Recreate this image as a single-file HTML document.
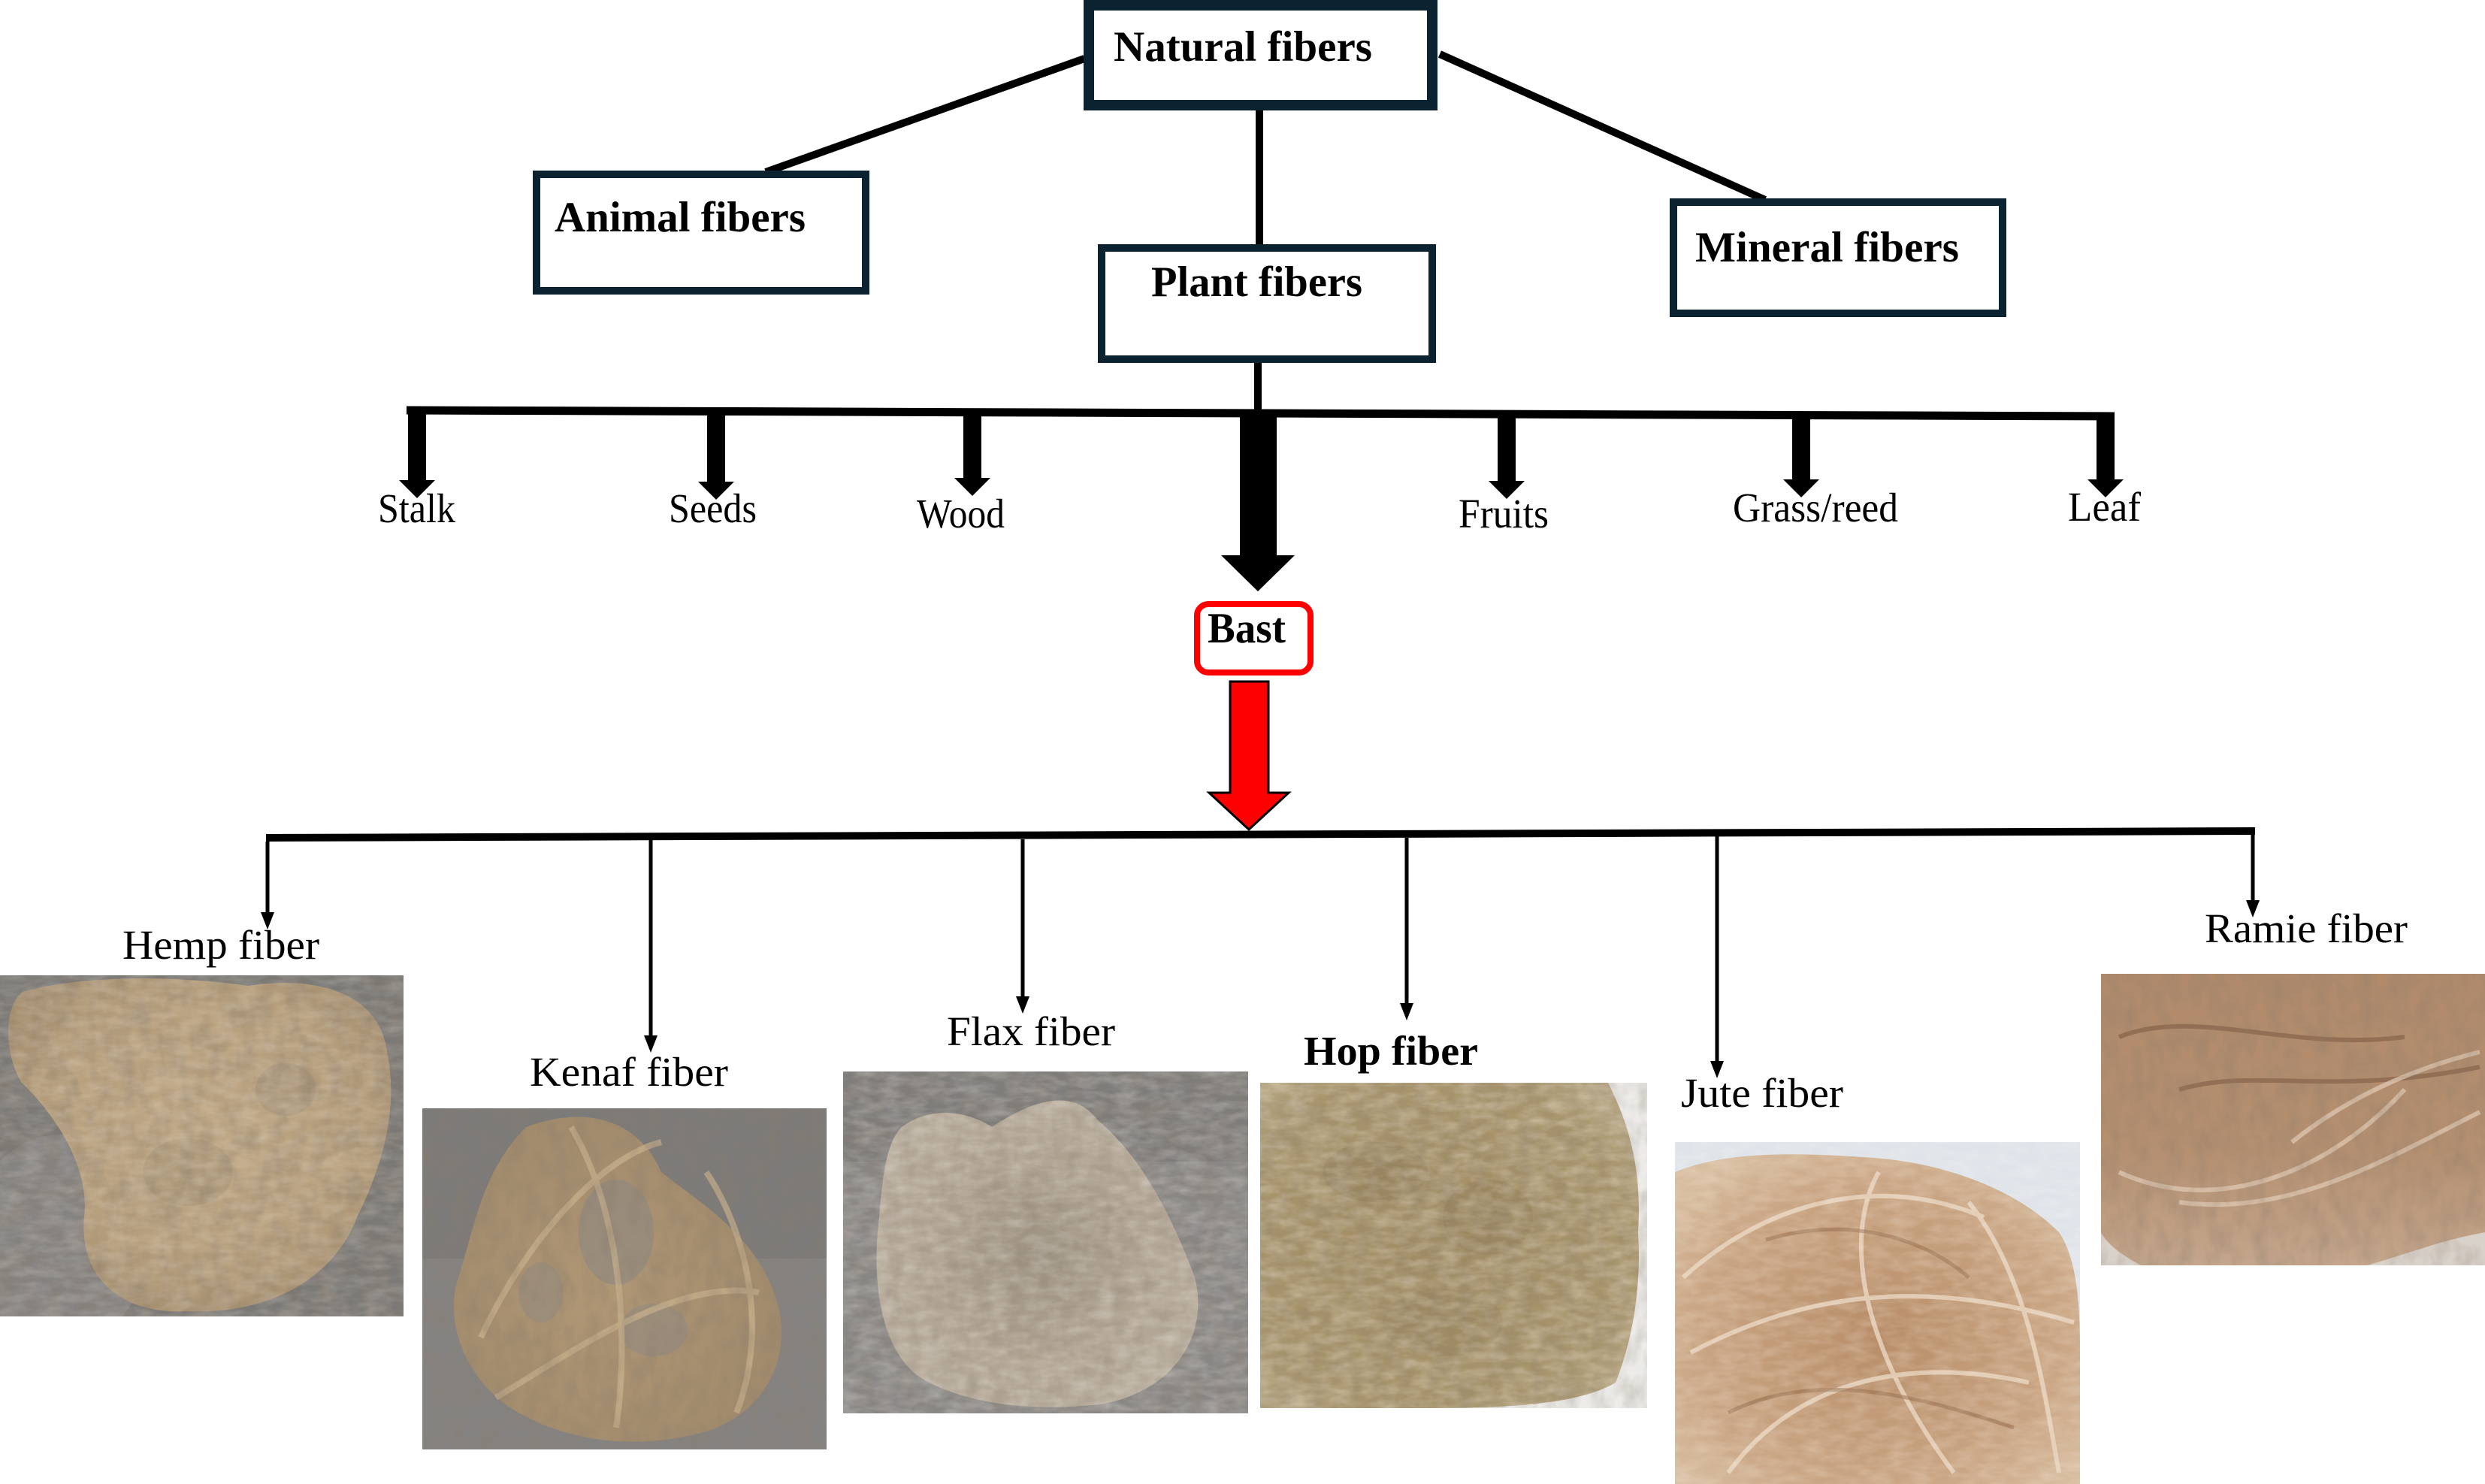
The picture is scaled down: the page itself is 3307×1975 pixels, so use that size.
<!DOCTYPE html>
<html>
<head>
<meta charset="utf-8">
<style>
html,body{margin:0;padding:0;background:#fff;}
svg{display:block;}
text{font-family:"Liberation Serif","Times New Roman",Times,serif;fill:#000;}
</style>
</head>
<body>
<svg width="3307" height="1975" viewBox="0 0 3307 1975" xmlns="http://www.w3.org/2000/svg">
<defs>
  <filter id="noise" x="0" y="0" width="100%" height="100%">
    <feTurbulence type="fractalNoise" baseFrequency="0.035 0.09" numOctaves="3" seed="4" result="t"/>
    <feColorMatrix in="t" type="matrix" values="0 0 0 0 1  0 0 0 0 0.95  0 0 0 0 0.88  0 0 0 -1.6 1.1"/>
  </filter>
  <filter id="noiseDark" x="0" y="0" width="100%" height="100%">
    <feTurbulence type="fractalNoise" baseFrequency="0.05 0.03" numOctaves="3" seed="9" result="t"/>
    <feColorMatrix in="t" type="matrix" values="0 0 0 0 0.25  0 0 0 0 0.2  0 0 0 0 0.15  0 0 0 -1.8 1.15"/>
  </filter>
  <radialGradient id="gHemp" cx="50%" cy="45%" r="60%">
    <stop offset="0" stop-color="#bea785"/>
    <stop offset="0.7" stop-color="#b59e7c"/>
    <stop offset="1" stop-color="#a38d6e"/>
  </radialGradient>
  <radialGradient id="gKenaf" cx="45%" cy="55%" r="60%">
    <stop offset="0" stop-color="#b09775"/>
    <stop offset="1" stop-color="#a08a6c"/>
  </radialGradient>
  <radialGradient id="gFlax" cx="50%" cy="50%" r="55%">
    <stop offset="0" stop-color="#9d9282"/>
    <stop offset="0.6" stop-color="#afa392"/>
    <stop offset="1" stop-color="#b9ae9e"/>
  </radialGradient>
  <radialGradient id="gHop" cx="45%" cy="50%" r="65%">
    <stop offset="0" stop-color="#a08c64"/>
    <stop offset="0.8" stop-color="#a8956d"/>
    <stop offset="1" stop-color="#b6a582"/>
  </radialGradient>
  <radialGradient id="gJute" cx="50%" cy="55%" r="65%">
    <stop offset="0" stop-color="#b88d68"/>
    <stop offset="0.7" stop-color="#c9a583"/>
    <stop offset="1" stop-color="#d8bda0"/>
  </radialGradient>
  <linearGradient id="gRamie" x1="0" y1="0" x2="0" y2="1">
    <stop offset="0" stop-color="#b08a6b"/>
    <stop offset="0.6" stop-color="#b48f70"/>
    <stop offset="1" stop-color="#c4a68c"/>
  </linearGradient>
  <clipPath id="cHemp"><rect x="0" y="1298" width="537" height="454"/></clipPath>
  <clipPath id="cKenaf"><rect x="562" y="1475" width="538" height="454"/></clipPath>
  <clipPath id="cFlax"><rect x="1122" y="1426" width="539" height="455"/></clipPath>
  <clipPath id="cHop"><rect x="1677" y="1441" width="515" height="433"/></clipPath>
  <clipPath id="cJute"><rect x="2229" y="1520" width="539" height="455"/></clipPath>
  <clipPath id="cRamie"><rect x="2796" y="1296" width="511" height="388"/></clipPath>
</defs>

<!-- ============ Connectors top ============ -->
<line x1="1443" y1="78" x2="1019" y2="229" stroke="#000" stroke-width="10"/>
<line x1="1916" y1="72" x2="2349" y2="266" stroke="#000" stroke-width="10"/>
<line x1="1676" y1="147" x2="1676" y2="327" stroke="#000" stroke-width="10"/>
<line x1="1674" y1="481" x2="1674" y2="548" stroke="#000" stroke-width="10"/>

<!-- ============ Boxes ============ -->
<rect x="1449" y="7" width="457" height="133" fill="#fff" stroke="#0b2230" stroke-width="14"/>
<text x="1482" y="81" font-size="57" font-weight="bold" textLength="344" lengthAdjust="spacingAndGlyphs">Natural fibers</text>

<rect x="714" y="232" width="438" height="155" fill="#fff" stroke="#0b2230" stroke-width="10"/>
<text x="738" y="308" font-size="57" font-weight="bold" textLength="334" lengthAdjust="spacingAndGlyphs">Animal fibers</text>

<rect x="1466" y="330" width="440" height="148" fill="#fff" stroke="#0b2230" stroke-width="10"/>
<text x="1532" y="394" font-size="57" font-weight="bold" textLength="281" lengthAdjust="spacingAndGlyphs">Plant fibers</text>

<rect x="2227" y="269" width="438" height="148" fill="#fff" stroke="#0b2230" stroke-width="10"/>
<text x="2256" y="348" font-size="57" font-weight="bold" textLength="351" lengthAdjust="spacingAndGlyphs">Mineral fibers</text>

<!-- ============ Top bar and arrows ============ -->
<line x1="541" y1="546" x2="2814" y2="554" stroke="#000" stroke-width="11"/>
<polygon fill="#000" points="543,546 567,546 567,639 579,639 555,663 531,639 543,639"/>
<polygon fill="#000" points="941,547 965,547 965,641 977,641 953,665 929,641 941,641"/>
<polygon fill="#000" points="1282,548 1306,548 1306,636 1318,636 1294,660 1270,636 1282,636"/>
<polygon fill="#000" points="1993,550 2017,550 2017,640 2029,640 2005,664 1981,640 1993,640"/>
<polygon fill="#000" points="2385,551 2409,551 2409,638 2421,638 2397,662 2373,638 2385,638"/>
<polygon fill="#000" points="2790,552 2814,552 2814,638 2826,638 2802,662 2778,638 2790,638"/>
<!-- big arrow to Bast -->
<polygon fill="#000" points="1650,548 1699,548 1699,739 1723,739 1674,787 1625,739 1650,739"/>

<text x="503" y="695" font-size="55" textLength="103" lengthAdjust="spacingAndGlyphs">Stalk</text>
<text x="890" y="695" font-size="55" textLength="117" lengthAdjust="spacingAndGlyphs">Seeds</text>
<text x="1220" y="702" font-size="55" textLength="117" lengthAdjust="spacingAndGlyphs">Wood</text>
<text x="1941" y="702" font-size="55" textLength="120" lengthAdjust="spacingAndGlyphs">Fruits</text>
<text x="2306" y="694" font-size="55" textLength="220" lengthAdjust="spacingAndGlyphs">Grass/reed</text>
<text x="2752" y="693" font-size="55" textLength="97" lengthAdjust="spacingAndGlyphs">Leaf</text>

<!-- ============ Bast ============ -->
<rect x="1593" y="804" width="151" height="91" rx="15" ry="15" fill="#fff" stroke="#f00" stroke-width="8"/>
<text x="1607" y="855" font-size="57" font-weight="bold" textLength="104" lengthAdjust="spacingAndGlyphs">Bast</text>
<polygon fill="#f00" stroke="#000" stroke-width="3" stroke-linejoin="miter" points="1637,907 1688,907 1688,1055 1715,1055 1662,1104 1609,1055 1637,1055"/>

<!-- ============ Bottom bar ============ -->
<line x1="354" y1="1115" x2="3001" y2="1106" stroke="#000" stroke-width="10"/>
<!-- thin arrows -->
<g stroke="#000" stroke-width="5">
  <line x1="356" y1="1120" x2="356" y2="1218"/>
  <line x1="866" y1="1118" x2="866" y2="1382"/>
  <line x1="1361" y1="1117" x2="1361" y2="1330"/>
  <line x1="1872" y1="1115" x2="1872" y2="1339"/>
  <line x1="2285" y1="1113" x2="2285" y2="1416"/>
  <line x1="2998" y1="1111" x2="2998" y2="1202"/>
</g>
<g fill="#000">
  <polygon points="347,1214 365,1214 356,1237"/>
  <polygon points="857,1378 875,1378 866,1401"/>
  <polygon points="1352,1326 1370,1326 1361,1349"/>
  <polygon points="1863,1335 1881,1335 1872,1358"/>
  <polygon points="2276,1412 2294,1412 2285,1435"/>
  <polygon points="2989,1198 3007,1198 2998,1221"/>
</g>

<text x="163" y="1276" font-size="55" textLength="262" lengthAdjust="spacingAndGlyphs">Hemp fiber</text>
<text x="705" y="1445" font-size="55" textLength="264" lengthAdjust="spacingAndGlyphs">Kenaf fiber</text>
<text x="1260" y="1391" font-size="55" textLength="224" lengthAdjust="spacingAndGlyphs">Flax fiber</text>
<text x="1735" y="1417" font-size="55" font-weight="bold" textLength="232" lengthAdjust="spacingAndGlyphs">Hop fiber</text>
<text x="2237" y="1473" font-size="55" textLength="216" lengthAdjust="spacingAndGlyphs">Jute fiber</text>
<text x="2934" y="1254" font-size="55" textLength="270" lengthAdjust="spacingAndGlyphs">Ramie fiber</text>

<!-- ============ Photos ============ -->
<!-- Hemp -->
<g clip-path="url(#cHemp)">
  <rect x="0" y="1298" width="537" height="454" fill="#7b7976"/>
  <ellipse cx="80" cy="1650" rx="120" ry="140" fill="#858381"/>
  <path d="M30 1320 C120 1295 250 1300 330 1312 C420 1298 505 1320 515 1400 C532 1480 505 1560 475 1620 C445 1700 360 1750 250 1745 C160 1750 105 1700 112 1620 C120 1550 70 1480 28 1440 C5 1400 5 1340 30 1320 Z" fill="url(#gHemp)"/>
  <ellipse cx="250" cy="1560" rx="60" ry="45" fill="#8f7e66" opacity="0.25"/>
  <ellipse cx="380" cy="1450" rx="40" ry="35" fill="#8d8170" opacity="0.25"/>
  <rect x="0" y="1298" width="537" height="454" filter="url(#noiseDark)" opacity="0.45"/>
  <rect x="0" y="1298" width="537" height="454" filter="url(#noise)" opacity="0.22"/>
</g>
<!-- Kenaf -->
<g clip-path="url(#cKenaf)">
  <rect x="562" y="1475" width="538" height="454" fill="#858381"/>
  <rect x="562" y="1475" width="538" height="200" fill="#7d7b79"/>
  <path d="M700 1500 C780 1470 850 1490 880 1560 C930 1600 1000 1640 1030 1720 C1060 1800 1020 1880 940 1905 C850 1930 760 1920 690 1880 C620 1840 590 1760 610 1700 C630 1640 640 1560 700 1500 Z" fill="url(#gKenaf)"/>
  <ellipse cx="820" cy="1640" rx="50" ry="70" fill="#8a8784" opacity="0.55"/>
  <ellipse cx="870" cy="1770" rx="45" ry="35" fill="#8a8784" opacity="0.45"/>
  <ellipse cx="720" cy="1720" rx="30" ry="40" fill="#8a8784" opacity="0.4"/>
  <g fill="none" stroke="#c9b28e" stroke-width="8" opacity="0.7">
    <path d="M640 1780 C700 1650 800 1540 880 1520"/>
    <path d="M660 1860 C760 1800 900 1700 1010 1720"/>
    <path d="M760 1500 C820 1600 840 1760 820 1900"/>
    <path d="M940 1560 C1000 1650 1020 1780 980 1880"/>
  </g>
  <rect x="562" y="1475" width="538" height="454" filter="url(#noiseDark)" opacity="0.4"/>
</g>
<!-- Flax -->
<g clip-path="url(#cFlax)">
  <rect x="1122" y="1426" width="539" height="455" fill="#898785"/>
  <rect x="1122" y="1426" width="539" height="120" fill="#7f7d7b"/>
  <path d="M1200 1500 C1240 1470 1290 1480 1320 1500 C1380 1460 1430 1450 1460 1490 C1520 1540 1560 1620 1590 1700 C1610 1780 1560 1850 1470 1868 C1380 1880 1280 1870 1220 1830 C1170 1790 1160 1700 1170 1620 C1175 1560 1180 1520 1200 1500 Z" fill="url(#gFlax)"/>
  <rect x="1122" y="1426" width="539" height="455" filter="url(#noise)" opacity="0.3"/>
  <rect x="1122" y="1426" width="539" height="455" filter="url(#noiseDark)" opacity="0.3"/>
</g>
<!-- Hop -->
<g clip-path="url(#cHop)">
  <rect x="1677" y="1441" width="515" height="433" fill="#e9e9e7"/>
  <path d="M1677 1441 L2140 1441 C2170 1500 2185 1560 2180 1640 C2185 1720 2170 1790 2150 1840 C2100 1870 2000 1874 1900 1874 L1677 1874 Z" fill="url(#gHop)"/>
  <ellipse cx="1830" cy="1560" rx="70" ry="40" fill="#8a7652" opacity="0.35"/>
  <ellipse cx="1980" cy="1620" rx="60" ry="50" fill="#8a7652" opacity="0.3"/>
  <ellipse cx="1920" cy="1760" rx="80" ry="45" fill="#8a7652" opacity="0.25"/>
  <rect x="1677" y="1441" width="515" height="433" filter="url(#noise)" opacity="0.35"/>
  <rect x="1677" y="1441" width="515" height="433" filter="url(#noiseDark)" opacity="0.3"/>
</g>
<!-- Jute -->
<g clip-path="url(#cJute)">
  <rect x="2229" y="1520" width="539" height="455" fill="#dfe4ea"/>
  <path d="M2229 1560 C2300 1530 2400 1535 2480 1540 C2580 1545 2680 1580 2740 1640 C2768 1680 2768 1760 2768 1800 L2768 1975 L2229 1975 Z" fill="url(#gJute)"/>
  <g fill="none" stroke="#ead7c2" stroke-width="6" opacity="0.8">
    <path d="M2240 1700 C2350 1600 2500 1560 2640 1620"/>
    <path d="M2250 1800 C2400 1720 2560 1700 2760 1760"/>
    <path d="M2300 1960 C2380 1850 2520 1800 2700 1840"/>
    <path d="M2500 1560 C2450 1650 2480 1800 2600 1960"/>
    <path d="M2620 1600 C2700 1700 2720 1850 2740 1960"/>
  </g>
  <g fill="none" stroke="#8f6646" stroke-width="5" opacity="0.5">
    <path d="M2350 1650 C2450 1620 2550 1640 2620 1700"/>
    <path d="M2300 1880 C2420 1820 2560 1860 2680 1900"/>
  </g>
  <rect x="2229" y="1520" width="539" height="455" filter="url(#noise)" opacity="0.25"/>
</g>
<!-- Ramie -->
<g clip-path="url(#cRamie)">
  <rect x="2796" y="1296" width="511" height="388" fill="#d9d2ca"/>
  <path d="M2796 1296 L3307 1296 L3307 1640 C3250 1650 3200 1670 3150 1684 L2850 1684 C2820 1670 2800 1650 2796 1640 Z" fill="url(#gRamie)"/>
  <g fill="none" stroke="#6e4a34" stroke-width="6" opacity="0.45">
    <path d="M2820 1380 C2920 1340 3050 1400 3200 1380"/>
    <path d="M2900 1450 C3000 1420 3100 1460 3300 1420"/>
  </g>
  <g fill="none" stroke="#e3cdb8" stroke-width="6" opacity="0.7">
    <path d="M2820 1560 C2950 1620 3100 1560 3200 1450"/>
    <path d="M2900 1600 C3050 1620 3180 1540 3300 1480"/>
    <path d="M3050 1520 C3100 1480 3180 1430 3300 1400"/>
  </g>
  <rect x="2796" y="1296" width="511" height="388" filter="url(#noiseDark)" opacity="0.35"/>
</g>
</svg>
</body>
</html>
